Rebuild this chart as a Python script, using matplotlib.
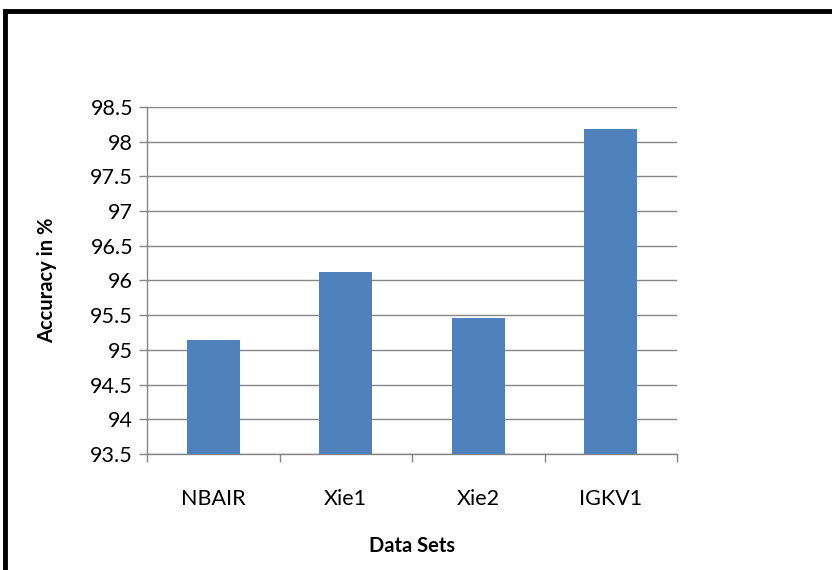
import matplotlib
matplotlib.use("Agg")
import matplotlib.pyplot as plt
import numpy as np
from matplotlib.patches import Rectangle

categories = ["NBAIR", "Xie1", "Xie2", "IGKV1"]
values = [95.14, 96.12, 95.46, 98.18]
yticks = [93.5, 94, 94.5, 95, 95.5, 96, 96.5, 97, 97.5, 98, 98.5]
ytick_labels = ["93.5", "94", "94.5", "95", "95.5", "96", "96.5", "97", "97.5", "98", "98.5"]

plt.rcParams['font.family'] = ['Lato', 'DejaVu Sans']

W, H = 832, 570
fig = plt.figure(figsize=(W/100, H/100), dpi=100)
grid_c = "#868686"

ax = fig.add_axes([147/W, 1-454/H, (677-147)/W, (454-107)/H])
x = np.arange(len(categories))
ax.bar(x, [v - yticks[0] for v in values], bottom=yticks[0], width=0.4, color="#4F81BD", zorder=3)
ax.set_xlim(-0.5, len(categories)-0.5)
ax.set_ylim(yticks[0], yticks[-1])
ax.set_yticks(yticks)
ax.set_yticklabels(ytick_labels, fontsize=15.5)
ax.set_xticks(x)
ax.set_xticklabels(categories, fontsize=15.5)
ax.set_xticks(np.arange(-0.5, len(categories), 1.0), minor=True)
ax.tick_params(axis='x', which='major', length=0, pad=25)
ax.tick_params(axis='x', which='minor', length=6, color=grid_c, width=1)
ax.tick_params(axis='y', length=6, color=grid_c, width=1, pad=4)
ax.yaxis.grid(True, color=grid_c, linewidth=1, zorder=0)
ax.set_axisbelow(True)
for s in ['top', 'right']:
    ax.spines[s].set_visible(False)
for s in ['left', 'bottom']:
    ax.spines[s].set_color(grid_c)
    ax.spines[s].set_linewidth(1)

ax.set_ylabel("Accuracy in %", fontsize=14.5, fontweight='bold', labelpad=24)
ax.set_xlabel("Data Sets", fontsize=14.5, fontweight='bold', labelpad=20)

# outer border
fig.patches.append(Rectangle((5/W, -0.1), 1.2, 1+0.1-11/H, transform=fig.transFigure,
                             fill=False, edgecolor='black', linewidth=3.5))

fig.savefig("out.png", dpi=100)
